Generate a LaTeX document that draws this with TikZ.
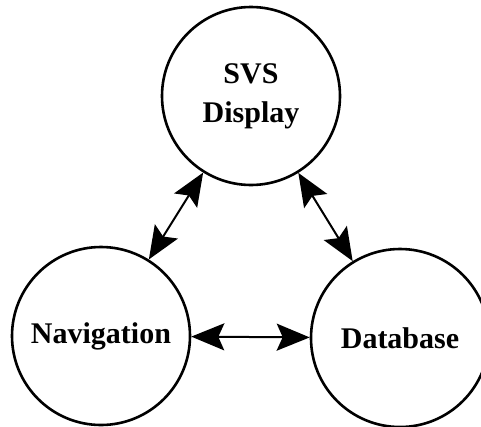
\documentclass[tikz,border=0pt]{standalone}
\usepackage{fontspec}
\setmainfont{Liberation Serif}
\usepackage{tikz}
\usetikzlibrary{arrows.meta}

\begin{document}
\begin{tikzpicture}[x=1pt, y=1pt,
        unit/.style={circle, draw, line width=2.6pt, minimum size=178pt, inner sep=0pt,
            align=center, font=\fontsize{30}{39}\selectfont\bfseries},
        link/.style={line width=2pt, {Stealth[length=33pt, width=27pt, inset=6pt]}-{Stealth[length=33pt, width=27pt, inset=6pt]}}]
        \useasboundingbox (0,0) rectangle (481,-426);
        \node[unit] (svs) at (251,-96) {SVS\\Display};
        \node[unit] (nav) at (101,-336) {Navigation};
        \node[unit] (db) at (400,-338) {Database};
        \draw[link] (svs) -- (nav);
        \draw[link] (svs) -- (db);
        \draw[link] (nav) -- (db);
\end{tikzpicture}
\end{document}
